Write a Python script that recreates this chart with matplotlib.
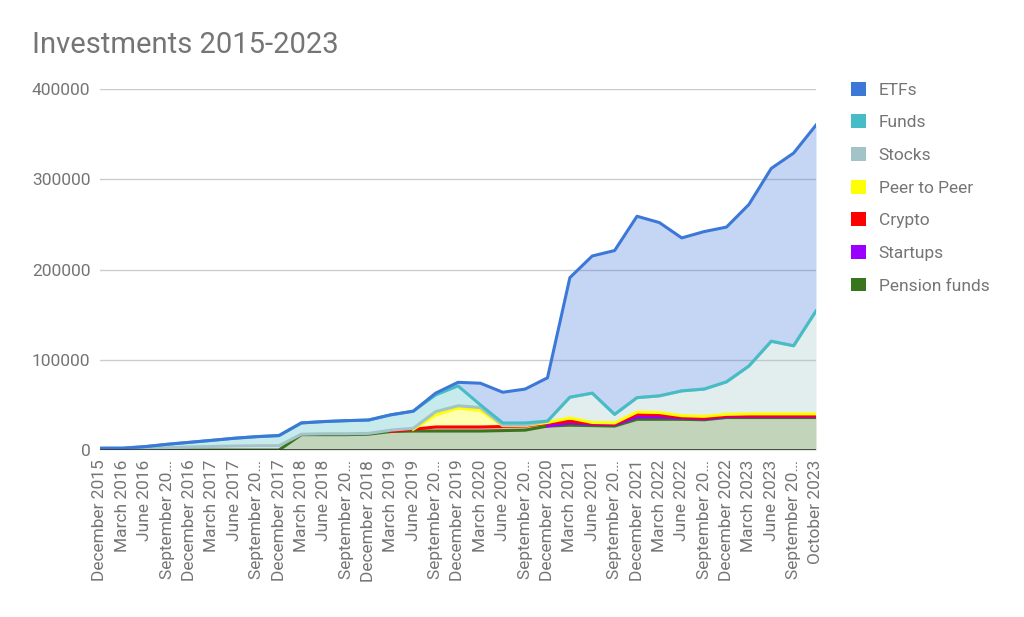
import numpy as np
import matplotlib
matplotlib.use("Agg")
import matplotlib.pyplot as plt
from matplotlib.patches import Patch

plt.rcParams['font.family'] = ['Roboto', 'DejaVu Sans']

# Quarter labels as shown on the x axis (long ones are cut off in the original)
dates = ["December 2015", "March 2016", "June 2016", "September 20…",
         "December 2016", "March 2017", "June 2017", "September 20…",
         "December 2017", "March 2018", "June 2018", "September 20…",
         "December 2018", "March 2019", "June 2019", "September 20…",
         "December 2019", "March 2020", "June 2020", "September 20…",
         "December 2020", "March 2021", "June 2021", "September 20…",
         "December 2021", "March 2022", "June 2022", "September 20…",
         "December 2022", "March 2023", "June 2023", "September 20…",
         "October 2023"]

# Values per category (read off the chart, not cumulative)
pension = [0, 0, 0, 0, 0, 0, 0, 0, 0,
           17000, 17000, 17000, 17500, 20500, 21000, 21000, 21000, 21000,
           21500, 22000, 26500, 27500, 27000, 26500, 34000, 34000, 34000,
           33500, 36000, 36000, 36000, 36000, 36000]
startups = [0] * 21 + [2500, 1500, 1500, 2500, 2500, 1500, 1000,
                       1000, 1000, 1000, 1000, 1000]
crypto = [0] * 14 + [2000, 4500, 4500, 4500, 4500, 4500, 3000, 2000, 1000,
                     1000, 3000, 2500, 1000, 1000, 1000, 1000, 1000, 1000, 1000]
peer = [0] * 15 + [13500, 21000, 18500, 1000, 500, 1000, 3500, 1000, 1000,
                   2500, 2500, 1500, 1800, 1500, 2000, 2000, 2000, 2000]
stocks = [1000, 1200, 1700, 2400, 3400, 3900, 4400, 4700, 4700,
          500, 1000, 1000, 900, 1500, 1000, 3500, 2500, 3000, 500, 500,
          1500, 23000, 32500, 9500, 16000, 18500, 27500, 30200, 36000,
          53000, 80500, 75500, 114000]
funds = [1000, 800, 2000, 3900, 5100, 6800, 8600, 10100, 11300,
         12500, 13500, 14500, 14800, 17000, 19000, 18500, 22000, 3000,
         2500, 2500] + [0] * 13
etfs = [0] * 15 + [2000, 4000, 24000, 34000, 37500, 48000, 132500, 152000,
                   181500, 201000, 192000, 169500, 174500, 171500, 179000,
                   191500, 213500, 206000]

# bottom to top, same as the stacking in the chart
names = ["Pension funds", "Startups", "Crypto", "Peer to Peer", "Stocks",
         "Funds", "ETFs"]
series = [pension, startups, crypto, peer, stocks, funds, etfs]
colors = ["#38761d", "#9900ff", "#ff0000", "#ffff00", "#a2c4c9",
          "#46bdc6", "#3c78d8"]
# these ones only show a line once they have started
late_start = ["Startups", "Crypto", "Peer to Peer"]

grey = "#757575"
x = np.arange(len(dates))

fig = plt.figure(figsize=(10.24, 6.17), dpi=100)
ax = fig.add_axes([100 / 1024, 167 / 617, 716 / 1024, 361 / 617])

# Stacked areas: light fill plus a solid line on top of each layer
base = np.zeros(len(dates))
for vals, col in zip(series, colors):
    top = base + np.array(vals, dtype=float)
    ax.fill_between(x, base, top, color=col, alpha=0.3, linewidth=0)
    base = top

base = np.zeros(len(dates))
for name, vals, col in zip(names, series, colors):
    v = np.array(vals, dtype=float)
    top = base + v
    line = top.copy()
    if name in late_start:
        first = np.argmax(v > 0)
        line[:max(first - 1, 0)] = np.nan
    ax.plot(x, line, color=col, linewidth=2.2, solid_joinstyle='round')
    base = top

ax.set_xlim(0, len(dates) - 1)
ax.set_ylim(0, 400000)
ax.set_yticks([0, 100000, 200000, 300000, 400000])
ax.set_yticklabels(["0", "100000", "200000", "300000", "400000"])
ax.set_xticks(x)
ax.set_xticklabels(dates, rotation=90)
ax.tick_params(axis='both', length=0, labelsize=12.5, labelcolor=grey)
ax.tick_params(axis='y', pad=7)
ax.tick_params(axis='x', pad=7)
ax.grid(axis='y', color="#cccccc", linewidth=1)
ax.set_axisbelow(True)
for s in ax.spines.values():
    s.set_visible(False)
ax.axhline(0, color="#333333", linewidth=1.2)

fig.text(32 / 1024, 1 - 45 / 617, "Investments 2015-2023", fontsize=21,
         color=grey, va='center', ha='left')

# Legend on the right, top entry first
handles = [Patch(facecolor=c, edgecolor='none') for c in colors[::-1]]
fig.legend(handles, names[::-1], loc='upper left',
           bbox_to_anchor=(835 / 1024, 1 - 66 / 617), frameon=False,
           fontsize=12.5, labelcolor=grey, handlelength=0.86,
           handleheight=0.86, handletextpad=0.75, labelspacing=0.96)

fig.savefig("out.png", dpi=100)
plt.close(fig)
